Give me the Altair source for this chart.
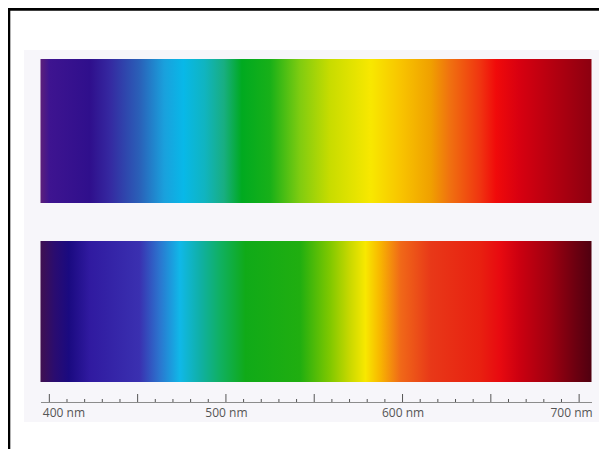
import altair as alt

# ---- wavelength axis (nm) ----
DOMAIN_NM = [395, 707]
MAJOR_TICKS = [400, 450, 500, 550, 600, 650, 700]
MINOR_TICKS = [410, 420, 430, 440, 460, 470, 480, 490, 510, 520, 530, 540,
               560, 570, 580, 590, 610, 620, 630, 640, 660, 670, 680, 690]
LABEL_TICKS = [400, 500, 600, 700]

# ---- colour stops of the upper spectrum ----
TOP_NM = [395, 400, 423, 434, 451, 465, 476, 488, 499, 509, 525, 542, 559,
          582, 599, 616, 627, 644, 653, 666, 683, 707]
TOP_COLORS = ["#5c1f7a", "#3e1490", "#2f0f8c", "#3528a0", "#2a60b8", "#1aa0dc",
              "#08b8e8", "#10b4c0", "#18ae80", "#00aa20", "#18b018", "#80cc10",
              "#c8dc00", "#f8e800", "#f8c400", "#f0a000", "#f07010", "#f03410",
              "#f00a0a", "#d80010", "#b80010", "#8c0010"]

# ---- colour stops of the lower spectrum ----
BOTTOM_NM = [395, 403, 411, 423, 451, 463, 474, 485, 497, 511, 542, 559, 570,
             579, 587, 599, 616, 644, 655, 666, 683, 698, 707]
BOTTOM_COLORS = ["#401050", "#2a0c70", "#1a0a80", "#301aa0", "#3a30b0", "#2a78d0",
                 "#10b8e8", "#10b0a8", "#10b060", "#10aa18", "#20ae10", "#80c800",
                 "#c8d800", "#f8e800", "#f8b800", "#f06818", "#e83818", "#e82010",
                 "#e80a10", "#cc0010", "#a00010", "#6c0010", "#500010"]

W, H = 591, 394
xscale = alt.Scale(domain=DOMAIN_NM, range=[32.5, 583.5], nice=False, zero=False)
one = alt.Data(values=[{"k": 0}])

first_lab, last_lab = LABEL_TICKS[0], LABEL_TICKS[-1]
axis = alt.Axis(
    values=LABEL_TICKS,
    ticks=False,
    domain=True,
    domainColor="#8c8c8c",
    domainWidth=1,
    grid=False,
    title=None,
    zindex=2,
    labelExpr="datum.value + ' nm'",
    labelFont="Open Sans",
    labelFontSize=12,
    labelColor="#555555",
    labelPadding=5,
    labelFlush=False,
    labelAlign={"condition": [
        {"test": f"datum.value === {first_lab}", "value": "left"},
        {"test": f"datum.value === {last_lab}", "value": "right"},
    ], "value": "center"},
    labelOffset={"condition": [
        {"test": f"datum.value === {first_lab}", "value": -7},
        {"test": f"datum.value === {last_lab}", "value": 13},
    ], "value": 0},
)


def band(nm, colors, y0, y1):
    lo, hi = DOMAIN_NM
    stops = [alt.GradientStop(color=c, offset=(w - lo) / (hi - lo)) for w, c in zip(nm, colors)]
    grad = alt.LinearGradient(gradient="linear", stops=stops, x1=0, x2=1, y1=0, y2=0)
    return alt.Chart(alt.Data(values=[{"start": nm[0], "end": nm[-1]}])).mark_rect(
        color=grad, strokeWidth=0
    ).encode(
        x=alt.X("start:Q", scale=xscale, axis=axis),
        x2="end:Q",
        y=alt.value(y0),
        y2=alt.value(y1),
    )


paper = alt.Chart(one).mark_rect(color="#f7f6fa").encode(
    x=alt.value(16), x2=alt.value(591), y=alt.value(42), y2=alt.value(414)
)

frame_top = alt.Chart(one).mark_rule(color="#000000", strokeWidth=3).encode(
    x=alt.value(0), x2=alt.value(W), y=alt.value(1.2)
)
frame_left = alt.Chart(one).mark_rule(color="#000000", strokeWidth=3).encode(
    x=alt.value(0.8), y=alt.value(0), y2=alt.value(H + 47)
)

top_band = band(TOP_NM, TOP_COLORS, 51, 195)
bottom_band = band(BOTTOM_NM, BOTTOM_COLORS, 233, 374)

major = alt.Chart(alt.Data(values=[{"nm": v} for v in MAJOR_TICKS])).mark_rule(
    color="#555555", strokeWidth=1
).encode(
    x=alt.X("nm:Q", scale=xscale, axis=axis),
    y=alt.value(386),
    y2=alt.value(394),
)

minor = alt.Chart(alt.Data(values=[{"nm": v} for v in MINOR_TICKS])).mark_rule(
    color="#555555", strokeWidth=1
).encode(
    x=alt.X("nm:Q", scale=xscale, axis=axis),
    y=alt.value(391),
    y2=alt.value(394),
)

chart = alt.layer(
    paper, top_band, bottom_band, minor, major, frame_top, frame_left
).properties(
    width=W,
    height=H,
    padding={"left": 0, "top": 0, "right": 0, "bottom": 47},
    autosize=alt.AutoSizeParams(type="none"),
    background="#ffffff",
).configure_view(stroke=None)

chart.save("out.html", embed_options={"renderer": "svg", "actions": False})
